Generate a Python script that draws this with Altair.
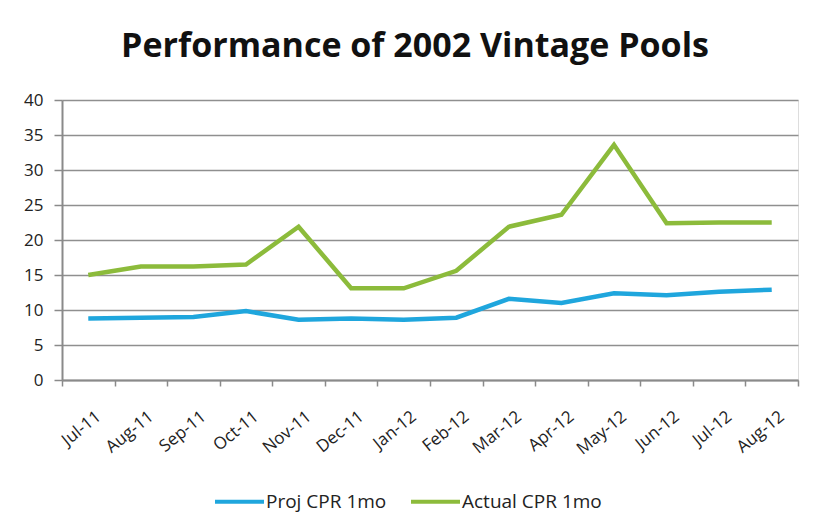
import altair as alt
import pandas as pd

months = ["Jul-11", "Aug-11", "Sep-11", "Oct-11", "Nov-11", "Dec-11", "Jan-12",
          "Feb-12", "Mar-12", "Apr-12", "May-12", "Jun-12", "Jul-12", "Aug-12"]
proj_cpr = [8.8, 8.9, 9.0, 9.85, 8.6, 8.8, 8.6, 8.9, 11.6, 11.0, 12.4, 12.1, 12.6, 12.9]
actual_cpr = [15.0, 16.2, 16.2, 16.5, 21.9, 13.1, 13.1, 15.6, 21.9, 23.6, 33.6, 22.4, 22.5, 22.5]
series_names = ["Proj CPR 1mo", "Actual CPR 1mo"]
series_colors = ["#1fa6dd", "#8cbb3b"]

rows = []
for m, p, a in zip(months, proj_cpr, actual_cpr):
    rows.append({"month": m, "series": series_names[0], "value": p})
    rows.append({"month": m, "series": series_names[1], "value": a})
df = pd.DataFrame(rows)

FONT = "Open Sans"
AXIS_GRAY = "#8a8a8a"

chart = alt.Chart(df).mark_line(strokeWidth=4.5).encode(
    x=alt.X("month:N", sort=months, title=None,
            scale=alt.Scale(paddingInner=0, paddingOuter=0),
            axis=alt.Axis(labelAngle=-39, labelFontSize=17, labelColor="#222",
                          labelFont=FONT, labelPadding=22, labelOffset=5,
                          domainColor=AXIS_GRAY, domainWidth=2,
                          tickColor=AXIS_GRAY, tickWidth=1.5, tickSize=6,
                          tickBand="extent", grid=False)),
    y=alt.Y("value:Q", title=None,
            scale=alt.Scale(domain=[0, 40], nice=False),
            axis=alt.Axis(values=list(range(0, 41, 5)), labelFontSize=17,
                          labelColor="#222", labelFont=FONT, labelPadding=11,
                          domainColor=AXIS_GRAY, domainWidth=2,
                          tickColor=AXIS_GRAY, tickWidth=1.5, tickSize=8,
                          gridColor="#8f8f8f", gridWidth=1.6)),
    color=alt.Color("series:N", sort=series_names,
                    scale=alt.Scale(domain=series_names, range=series_colors),
                    legend=alt.Legend(title=None, orient="none", direction="horizontal",
                                      legendX=151, legendY=375,
                                      symbolType="stroke", symbolStrokeWidth=4,
                                      symbolSize=2400, labelFontSize=19,
                                      labelFont=FONT, labelColor="#222",
                                      columnPadding=16, labelOffset=0)),
).properties(
    width=736,
    height=280,
    title=alt.TitleParams("Performance of 2002 Vintage Pools", font=FONT,
                          fontSize=34, fontWeight="bold", color="#111",
                          anchor="middle", dx=-15, offset=27),
    autosize=alt.AutoSizeParams(type="none"),
    padding={"left": 62, "top": 100, "right": 15, "bottom": 145},
).configure_view(stroke=None).configure(background="white")

chart.save("out.html", embed_options={"renderer": "svg", "actions": False})
